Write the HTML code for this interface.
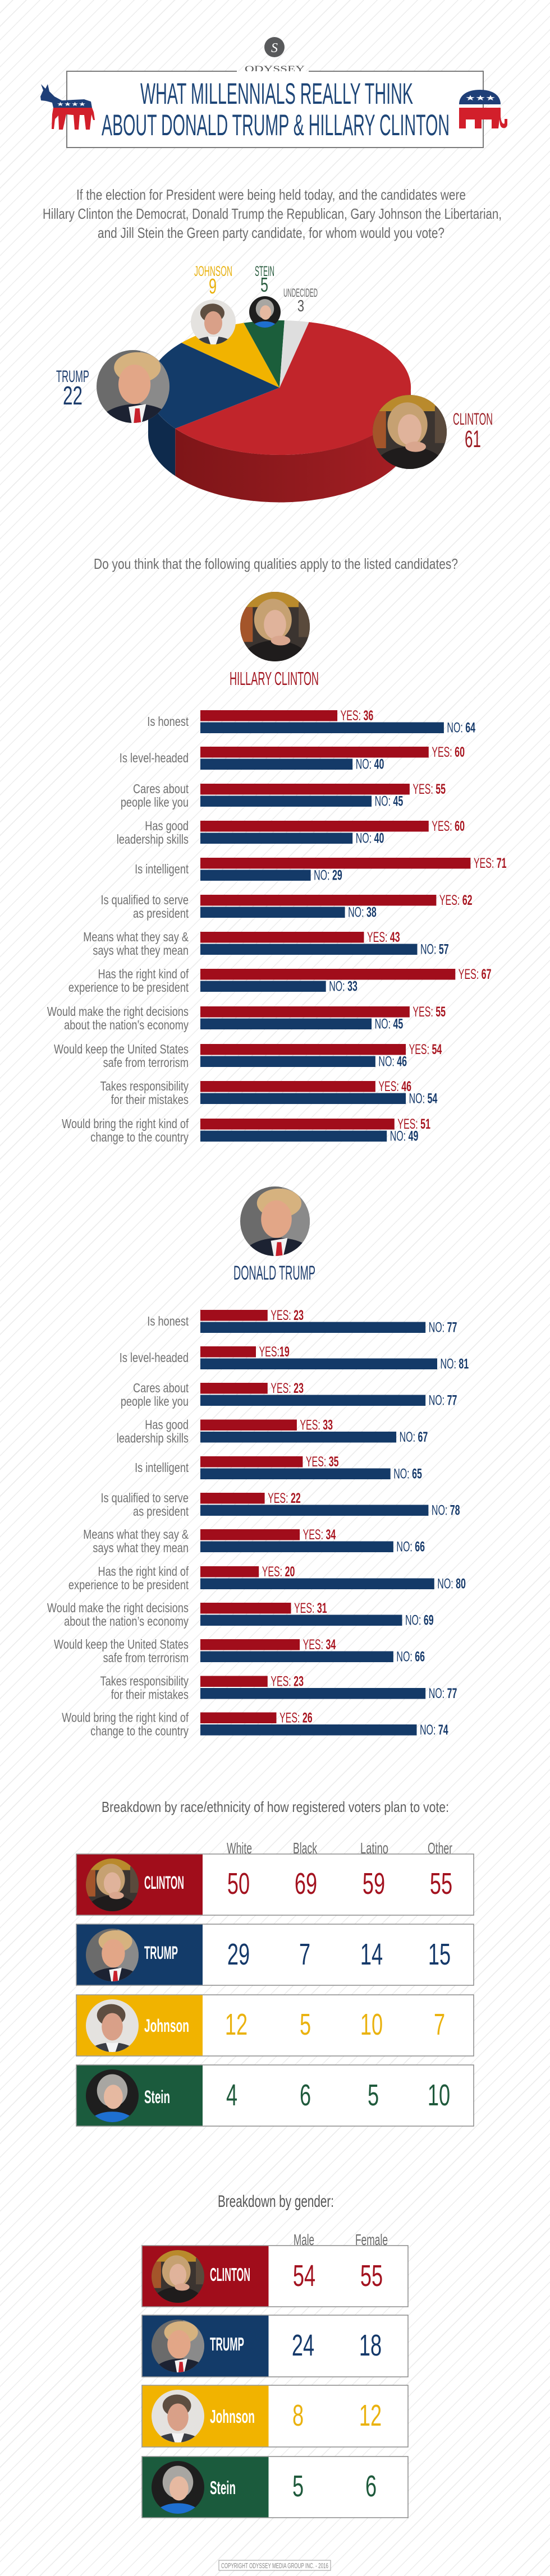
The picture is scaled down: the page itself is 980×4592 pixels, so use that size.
<!DOCTYPE html>
<html><head><meta charset="utf-8"><title>What Millennials Really Think</title>
<style>
html,body{margin:0;padding:0}
body{width:980px;height:4592px;overflow:hidden;background:#fff repeating-linear-gradient(135deg,#ffffff 0px,#ffffff 15.5px,#ededed 15.5px,#ededed 17px)}
svg{display:block}
text{font-family:"Liberation Sans",sans-serif}
.lb{font-size:23px;fill:#707070;text-anchor:end}
.vy{font-size:25px;fill:#a8141f}
.vn{font-size:25px;fill:#15396a}
.b{font-weight:bold}
</style></head>
<body>
<svg width="980" height="4592" viewBox="0 0 980 4592" xmlns="http://www.w3.org/2000/svg">
<defs>
<clipPath id="cc"><circle cx="50" cy="50" r="50"/></clipPath>
<linearGradient id="rs" x1="0" x2="1" y1="0" y2="0"><stop offset="0" stop-color="#7e1518"/><stop offset="0.6" stop-color="#941b1f"/><stop offset="1" stop-color="#a61e24"/></linearGradient>
<symbol id="ph" viewBox="0 0 100 100"><g clip-path="url(#cc)">
<rect width="100" height="100" fill="#3b3430"/><rect width="100" height="22" fill="#b98a2c"/><rect y="22" width="18" height="50" fill="#a4552a"/><rect x="84" y="15" width="16" height="50" fill="#5a4a3c"/>
<ellipse cx="47" cy="40" rx="27" ry="30" fill="#c6a172"/><ellipse cx="50" cy="47" rx="16" ry="21" fill="#e0b39b"/>
<ellipse cx="50" cy="102" rx="50" ry="32" fill="#1f1c1c"/><ellipse cx="58" cy="70" rx="14" ry="7" fill="#d9a68e"/></g></symbol>
<symbol id="pt" viewBox="0 0 100 100"><g clip-path="url(#cc)">
<rect width="100" height="100" fill="#6b6b6b"/><rect x="60" width="40" height="100" fill="#8a8a8a"/>
<ellipse cx="56" cy="24" rx="32" ry="21" fill="#d6b27f"/><ellipse cx="52" cy="47" rx="22" ry="27" fill="#e2a687"/>
<ellipse cx="55" cy="102" rx="52" ry="28" fill="#1c2232"/><polygon points="44,78 68,74 62,100 48,100" fill="#f2f2f2"/><polygon points="53,80 59,80 61,100 51,100" fill="#c8202b"/></g></symbol>
<symbol id="pj" viewBox="0 0 100 100"><g clip-path="url(#cc)">
<rect width="100" height="100" fill="#e4e2df"/><ellipse cx="48" cy="30" rx="27" ry="21" fill="#5e4e41"/><ellipse cx="50" cy="52" rx="20" ry="26" fill="#d9a088"/>
<ellipse cx="50" cy="108" rx="50" ry="26" fill="#3a3d44"/><polygon points="38,82 62,82 56,100 44,100" fill="#f4f4f4"/></g></symbol>
<symbol id="ps" viewBox="0 0 100 100"><g clip-path="url(#cc)">
<rect width="100" height="100" fill="#1e1e1e"/><ellipse cx="50" cy="40" rx="29" ry="31" fill="#a8a6a2"/><ellipse cx="52" cy="52" rx="18" ry="23" fill="#e6b9a1"/>
<ellipse cx="50" cy="106" rx="46" ry="26" fill="#1e6fd0"/></g></symbol>
</defs>

<!-- HEADER -->
<circle cx="489" cy="84" r="18" fill="#58595b"/>
<text x="489" y="93" text-anchor="middle" font-size="24" fill="#fff" style="font-family:'Liberation Serif',serif;font-style:italic">S</text>
<text x="436" y="128" textLength="107" lengthAdjust="spacingAndGlyphs" font-size="16" fill="#555" style="font-family:'Liberation Serif',serif">ODYSSEY</text>
<rect x="119" y="127" width="742" height="136" fill="#fff"/>
<path d="M422,127 H119 V263 H861 V127 H550" fill="none" stroke="#7a7a7a" stroke-width="2"/>
<text x="250" y="185" textLength="486" lengthAdjust="spacingAndGlyphs" font-size="53" fill="#1d4577">WHAT MILLENNIALS REALLY THINK</text>
<text x="181" y="241" textLength="620" lengthAdjust="spacingAndGlyphs" font-size="53" fill="#1d4577">ABOUT DONALD TRUMP &amp; HILLARY CLINTON</text>

<!-- donkey -->
<path d="M72,172 L77,161 L73,150 L81,158 L85,150 L88,163 L97,172 L110,179 L150,177 L162,181 L164,192 L95,192 L93,183 L82,180 L73,179 Z" fill="#1f3f77"/>
<text x="101" y="189" font-size="10" fill="#fff" textLength="52" lengthAdjust="spacingAndGlyphs">★★★★</text>
<path d="M95,192 H164 L167,200 L169,214 L166,214 L163,204 L160,231 L153,231 L150,205 L142,205 L140,231 L133,231 L131,205 L118,204 L112,231 L105,231 L104,206 L98,212 L96,230 L92,230 L93,204 Z" fill="#d21f2b"/>
<!-- elephant -->
<path d="M818,186 C818,168 835,160 855,160 C878,160 892,170 892,186 Z" fill="#1f3f77"/>
<text x="829" y="179" font-size="13" fill="#fff" textLength="54" lengthAdjust="spacingAndGlyphs">★★★</text>
<path d="M818,192 H892 V208 C893,218 896,222 899,220 L899,212 L904,212 L904,222 C903,230 893,231 891,222 L890,213 L888,229 L876,229 L876,213 L858,213 L858,229 L846,229 L846,213 L830,213 L830,229 L818,229 Z" fill="#d21f2b"/>

<!-- QUESTION 1 -->
<text x="136" y="356" textLength="694" lengthAdjust="spacingAndGlyphs" font-size="26" fill="#6b6b6b">If the election for President were being held today, and the candidates were</text>
<text x="76" y="390" textLength="818" lengthAdjust="spacingAndGlyphs" font-size="26" fill="#6b6b6b">Hillary Clinton the Democrat, Donald Trump the Republican, Gary Johnson the Libertarian,</text>
<text x="174" y="424" textLength="618" lengthAdjust="spacingAndGlyphs" font-size="26" fill="#6b6b6b">and Jill Stein the Green party candidate, for whom would you vote?</text>

<!-- PIE -->
<path d="M732,691 A234,120 0 0 1 312.2,763.9 L312.2,848.4 A234,120 0 0 0 732,775.5 Z" fill="url(#rs)"/>
<path d="M312.2,763.9 A234,120 0 0 1 264,691 L264,775.5 A234,120 0 0 0 312.2,848.4 Z" fill="#0e2a4c"/>
<path d="M498,691 L550.6,574.1 A234,120 0 1 1 312.2,763.9 Z" fill="#c1252b"/>
<path d="M498,691 L312.2,763.9 A234,120 0 0 1 323.5,611 Z" fill="#133b69"/>
<path d="M498,691 L323.5,611 A234,120 0 0 1 434.3,575.6 Z" fill="#f1b300"/>
<path d="M498,691 L434.3,575.6 A234,120 0 0 1 506.9,571.1 Z" fill="#1b5e3b"/>
<path d="M498,691 L506.9,571.1 A234,120 0 0 1 550.6,574.1 Z" fill="#dedede"/>
<use href="#pt" x="172" y="624" width="130" height="130"/>
<use href="#ph" x="664" y="704" width="132" height="132"/>
<use href="#pj" x="340" y="534" width="80" height="80"/>
<use href="#ps" x="444" y="528" width="56" height="56"/>
<text x="346" y="492" textLength="68" lengthAdjust="spacingAndGlyphs" font-size="25" fill="#e9b10c">JOHNSON</text>
<text x="372" y="523" textLength="14" lengthAdjust="spacingAndGlyphs" font-size="38" fill="#e9b10c">9</text>
<text x="454" y="492" textLength="35" lengthAdjust="spacingAndGlyphs" font-size="25" fill="#2b5d40">STEIN</text>
<text x="464" y="520" textLength="14" lengthAdjust="spacingAndGlyphs" font-size="36" fill="#2b5d40">5</text>
<text x="505" y="529" textLength="61" lengthAdjust="spacingAndGlyphs" font-size="21" fill="#666">UNDECIDED</text>
<text x="530" y="555" textLength="12" lengthAdjust="spacingAndGlyphs" font-size="29" fill="#555">3</text>
<text x="100" y="681" textLength="59" lengthAdjust="spacingAndGlyphs" font-size="30" fill="#1c3c6c">TRUMP</text>
<text x="112" y="721" textLength="35" lengthAdjust="spacingAndGlyphs" font-size="46" fill="#1c3c6c">22</text>
<text x="807" y="757" textLength="71" lengthAdjust="spacingAndGlyphs" font-size="30" fill="#9b1b22">CLINTON</text>
<text x="828" y="797" textLength="29" lengthAdjust="spacingAndGlyphs" font-size="43" fill="#9b1b22">61</text>

<!-- QUESTION 2 -->
<text x="167" y="1014" textLength="649" lengthAdjust="spacingAndGlyphs" font-size="26" fill="#6b6b6b">Do you think that the following qualities apply to the listed candidates?</text>

<!-- HILLARY -->
<use href="#ph" x="428" y="1055" width="124" height="124"/>
<text x="409" y="1221" textLength="159" lengthAdjust="spacingAndGlyphs" font-size="33" fill="#a31621">HILLARY CLINTON</text>

<g fill="#a10d1b">
<rect x="357" y="1266" width="244.1" height="19.5"/>
<rect x="357" y="1331" width="406.8" height="19.5"/>
<rect x="357" y="1397" width="372.9" height="19.5"/>
<rect x="357" y="1463" width="406.8" height="19.5"/>
<rect x="357" y="1529" width="481.4" height="19.5"/>
<rect x="357" y="1595" width="420.4" height="19.5"/>
<rect x="357" y="1661" width="291.5" height="19.5"/>
<rect x="357" y="1727" width="454.3" height="19.5"/>
<rect x="357" y="1794" width="372.9" height="19.5"/>
<rect x="357" y="1861" width="366.1" height="19.5"/>
<rect x="357" y="1927" width="311.9" height="19.5"/>
<rect x="357" y="1994" width="345.8" height="19.5"/>
</g>
<g fill="#143a68">
<rect x="357" y="1287.5" width="433.9" height="19.5"/>
<rect x="357" y="1352.5" width="271.2" height="19.5"/>
<rect x="357" y="1418.5" width="305.1" height="19.5"/>
<rect x="357" y="1484.5" width="271.2" height="19.5"/>
<rect x="357" y="1550.5" width="196.6" height="19.5"/>
<rect x="357" y="1616.5" width="257.6" height="19.5"/>
<rect x="357" y="1682.5" width="386.5" height="19.5"/>
<rect x="357" y="1748.5" width="223.7" height="19.5"/>
<rect x="357" y="1815.5" width="305.1" height="19.5"/>
<rect x="357" y="1882.5" width="311.9" height="19.5"/>
<rect x="357" y="1948.5" width="366.1" height="19.5"/>
<rect x="357" y="2015.5" width="332.2" height="19.5"/>
</g>
<g>
<text class="vy" transform="translate(606.6 1284) scale(.64 1)">YES: <tspan class="b">36</tspan></text>
<text class="vn" transform="translate(796.4 1305.5) scale(.64 1)">NO: <tspan class="b">64</tspan></text>
<text class="vy" transform="translate(769.3 1349) scale(.64 1)">YES: <tspan class="b">60</tspan></text>
<text class="vn" transform="translate(633.7 1370.5) scale(.64 1)">NO: <tspan class="b">40</tspan></text>
<text class="vy" transform="translate(735.4 1415) scale(.64 1)">YES: <tspan class="b">55</tspan></text>
<text class="vn" transform="translate(667.6 1436.5) scale(.64 1)">NO: <tspan class="b">45</tspan></text>
<text class="vy" transform="translate(769.3 1481) scale(.64 1)">YES: <tspan class="b">60</tspan></text>
<text class="vn" transform="translate(633.7 1502.5) scale(.64 1)">NO: <tspan class="b">40</tspan></text>
<text class="vy" transform="translate(843.9 1547) scale(.64 1)">YES: <tspan class="b">71</tspan></text>
<text class="vn" transform="translate(559.1 1568.5) scale(.64 1)">NO: <tspan class="b">29</tspan></text>
<text class="vy" transform="translate(782.9 1613) scale(.64 1)">YES: <tspan class="b">62</tspan></text>
<text class="vn" transform="translate(620.1 1634.5) scale(.64 1)">NO: <tspan class="b">38</tspan></text>
<text class="vy" transform="translate(654 1679) scale(.64 1)">YES: <tspan class="b">43</tspan></text>
<text class="vn" transform="translate(749 1700.5) scale(.64 1)">NO: <tspan class="b">57</tspan></text>
<text class="vy" transform="translate(816.8 1745) scale(.64 1)">YES: <tspan class="b">67</tspan></text>
<text class="vn" transform="translate(586.2 1766.5) scale(.64 1)">NO: <tspan class="b">33</tspan></text>
<text class="vy" transform="translate(735.4 1812) scale(.64 1)">YES: <tspan class="b">55</tspan></text>
<text class="vn" transform="translate(667.6 1833.5) scale(.64 1)">NO: <tspan class="b">45</tspan></text>
<text class="vy" transform="translate(728.6 1879) scale(.64 1)">YES: <tspan class="b">54</tspan></text>
<text class="vn" transform="translate(674.4 1900.5) scale(.64 1)">NO: <tspan class="b">46</tspan></text>
<text class="vy" transform="translate(674.4 1945) scale(.64 1)">YES: <tspan class="b">46</tspan></text>
<text class="vn" transform="translate(728.6 1966.5) scale(.64 1)">NO: <tspan class="b">54</tspan></text>
<text class="vy" transform="translate(708.3 2012) scale(.64 1)">YES: <tspan class="b">51</tspan></text>
<text class="vn" transform="translate(694.7 2033.5) scale(.64 1)">NO: <tspan class="b">49</tspan></text>
</g>
<g>
<text class="lb" transform="translate(336 1294) scale(.79 1)">Is honest</text>
<text class="lb" transform="translate(336 1359) scale(.79 1)">Is level-headed</text>
<text class="lb" transform="translate(336 1414) scale(.79 1)">Cares about</text>
<text class="lb" transform="translate(336 1438) scale(.79 1)">people like you</text>
<text class="lb" transform="translate(336 1480) scale(.79 1)">Has good</text>
<text class="lb" transform="translate(336 1504) scale(.79 1)">leadership skills</text>
<text class="lb" transform="translate(336 1557) scale(.79 1)">Is intelligent</text>
<text class="lb" transform="translate(336 1612) scale(.79 1)">Is qualified to serve</text>
<text class="lb" transform="translate(336 1636) scale(.79 1)">as president</text>
<text class="lb" transform="translate(336 1678) scale(.79 1)">Means what they say &amp;</text>
<text class="lb" transform="translate(336 1702) scale(.79 1)">says what they mean</text>
<text class="lb" transform="translate(336 1744) scale(.79 1)">Has the right kind of</text>
<text class="lb" transform="translate(336 1768) scale(.79 1)">experience to be president</text>
<text class="lb" transform="translate(336 1811) scale(.79 1)">Would make the right decisions</text>
<text class="lb" transform="translate(336 1835) scale(.79 1)">about the nation’s economy</text>
<text class="lb" transform="translate(336 1878) scale(.79 1)">Would keep the United States</text>
<text class="lb" transform="translate(336 1902) scale(.79 1)">safe from terrorism</text>
<text class="lb" transform="translate(336 1944) scale(.79 1)">Takes responsibility</text>
<text class="lb" transform="translate(336 1968) scale(.79 1)">for their mistakes</text>
<text class="lb" transform="translate(336 2011) scale(.79 1)">Would bring the right kind of</text>
<text class="lb" transform="translate(336 2035) scale(.79 1)">change to the country</text>
</g>

<!-- TRUMP -->
<use href="#pt" x="428" y="2115" width="124" height="124"/>
<text x="416" y="2281" textLength="146" lengthAdjust="spacingAndGlyphs" font-size="35" fill="#1c3c6c">DONALD TRUMP</text>

<g fill="#a10d1b">
<rect x="357" y="2335" width="119.8" height="19.5"/>
<rect x="357" y="2400" width="99" height="19.5"/>
<rect x="357" y="2465" width="119.8" height="19.5"/>
<rect x="357" y="2530.5" width="171.9" height="19.5"/>
<rect x="357" y="2596" width="182.4" height="19.5"/>
<rect x="357" y="2661" width="114.6" height="19.5"/>
<rect x="357" y="2726" width="177.1" height="19.5"/>
<rect x="357" y="2792" width="104.2" height="19.5"/>
<rect x="357" y="2857" width="161.5" height="19.5"/>
<rect x="357" y="2922" width="177.1" height="19.5"/>
<rect x="357" y="2987.5" width="119.8" height="19.5"/>
<rect x="357" y="3052.5" width="135.5" height="19.5"/>
</g>
<g fill="#143a68">
<rect x="357" y="2356.5" width="401.2" height="19.5"/>
<rect x="357" y="2421.5" width="422" height="19.5"/>
<rect x="357" y="2486.5" width="401.2" height="19.5"/>
<rect x="357" y="2552" width="349.1" height="19.5"/>
<rect x="357" y="2617.5" width="338.7" height="19.5"/>
<rect x="357" y="2682.5" width="406.4" height="19.5"/>
<rect x="357" y="2747.5" width="343.9" height="19.5"/>
<rect x="357" y="2813.5" width="416.8" height="19.5"/>
<rect x="357" y="2878.5" width="359.5" height="19.5"/>
<rect x="357" y="2943.5" width="343.9" height="19.5"/>
<rect x="357" y="3009" width="401.2" height="19.5"/>
<rect x="357" y="3074" width="385.5" height="19.5"/>
</g>
<g>
<text class="vy" transform="translate(482.3 2353) scale(.64 1)">YES: <tspan class="b">23</tspan></text>
<text class="vn" transform="translate(763.7 2374.5) scale(.64 1)">NO: <tspan class="b">77</tspan></text>
<text class="vy" transform="translate(461.5 2418) scale(.64 1)">YES:<tspan class="b">19</tspan></text>
<text class="vn" transform="translate(784.5 2439.5) scale(.64 1)">NO: <tspan class="b">81</tspan></text>
<text class="vy" transform="translate(482.3 2483) scale(.64 1)">YES: <tspan class="b">23</tspan></text>
<text class="vn" transform="translate(763.7 2504.5) scale(.64 1)">NO: <tspan class="b">77</tspan></text>
<text class="vy" transform="translate(534.4 2548.5) scale(.64 1)">YES: <tspan class="b">33</tspan></text>
<text class="vn" transform="translate(711.6 2570) scale(.64 1)">NO: <tspan class="b">67</tspan></text>
<text class="vy" transform="translate(544.9 2614) scale(.64 1)">YES: <tspan class="b">35</tspan></text>
<text class="vn" transform="translate(701.2 2635.5) scale(.64 1)">NO: <tspan class="b">65</tspan></text>
<text class="vy" transform="translate(477.1 2679) scale(.64 1)">YES: <tspan class="b">22</tspan></text>
<text class="vn" transform="translate(768.9 2700.5) scale(.64 1)">NO: <tspan class="b">78</tspan></text>
<text class="vy" transform="translate(539.6 2744) scale(.64 1)">YES: <tspan class="b">34</tspan></text>
<text class="vn" transform="translate(706.4 2765.5) scale(.64 1)">NO: <tspan class="b">66</tspan></text>
<text class="vy" transform="translate(466.7 2810) scale(.64 1)">YES: <tspan class="b">20</tspan></text>
<text class="vn" transform="translate(779.3 2831.5) scale(.64 1)">NO: <tspan class="b">80</tspan></text>
<text class="vy" transform="translate(524 2875) scale(.64 1)">YES: <tspan class="b">31</tspan></text>
<text class="vn" transform="translate(722 2896.5) scale(.64 1)">NO: <tspan class="b">69</tspan></text>
<text class="vy" transform="translate(539.6 2940) scale(.64 1)">YES: <tspan class="b">34</tspan></text>
<text class="vn" transform="translate(706.4 2961.5) scale(.64 1)">NO: <tspan class="b">66</tspan></text>
<text class="vy" transform="translate(482.3 3005.5) scale(.64 1)">YES: <tspan class="b">23</tspan></text>
<text class="vn" transform="translate(763.7 3027) scale(.64 1)">NO: <tspan class="b">77</tspan></text>
<text class="vy" transform="translate(498 3070.5) scale(.64 1)">YES: <tspan class="b">26</tspan></text>
<text class="vn" transform="translate(748 3092) scale(.64 1)">NO: <tspan class="b">74</tspan></text>
</g>
<g>
<text class="lb" transform="translate(336 2363) scale(.79 1)">Is honest</text>
<text class="lb" transform="translate(336 2428) scale(.79 1)">Is level-headed</text>
<text class="lb" transform="translate(336 2482) scale(.79 1)">Cares about</text>
<text class="lb" transform="translate(336 2506) scale(.79 1)">people like you</text>
<text class="lb" transform="translate(336 2547.5) scale(.79 1)">Has good</text>
<text class="lb" transform="translate(336 2571.5) scale(.79 1)">leadership skills</text>
<text class="lb" transform="translate(336 2624) scale(.79 1)">Is intelligent</text>
<text class="lb" transform="translate(336 2678) scale(.79 1)">Is qualified to serve</text>
<text class="lb" transform="translate(336 2702) scale(.79 1)">as president</text>
<text class="lb" transform="translate(336 2743) scale(.79 1)">Means what they say &amp;</text>
<text class="lb" transform="translate(336 2767) scale(.79 1)">says what they mean</text>
<text class="lb" transform="translate(336 2809) scale(.79 1)">Has the right kind of</text>
<text class="lb" transform="translate(336 2833) scale(.79 1)">experience to be president</text>
<text class="lb" transform="translate(336 2874) scale(.79 1)">Would make the right decisions</text>
<text class="lb" transform="translate(336 2898) scale(.79 1)">about the nation’s economy</text>
<text class="lb" transform="translate(336 2939) scale(.79 1)">Would keep the United States</text>
<text class="lb" transform="translate(336 2963) scale(.79 1)">safe from terrorism</text>
<text class="lb" transform="translate(336 3004.5) scale(.79 1)">Takes responsibility</text>
<text class="lb" transform="translate(336 3028.5) scale(.79 1)">for their mistakes</text>
<text class="lb" transform="translate(336 3069.5) scale(.79 1)">Would bring the right kind of</text>
<text class="lb" transform="translate(336 3093.5) scale(.79 1)">change to the country</text>
</g>

<!-- RACE TABLE -->
<text x="181" y="3230" textLength="619" lengthAdjust="spacingAndGlyphs" font-size="26" fill="#5e5e5e">Breakdown by race/ethnicity of how registered voters plan to vote:</text>
<g font-size="28" fill="#6a6a6a">
<text x="404" y="3304" textLength="45" lengthAdjust="spacingAndGlyphs">White</text>
<text x="522" y="3304" textLength="43" lengthAdjust="spacingAndGlyphs">Black</text>
<text x="642" y="3304" textLength="50" lengthAdjust="spacingAndGlyphs">Latino</text>
<text x="762" y="3304" textLength="44" lengthAdjust="spacingAndGlyphs">Other</text>
</g>
<g stroke="#8a8a8a" stroke-width="1.5">
<rect x="136" y="3305" width="708" height="109" fill="#fff"/>
<rect x="136" y="3430" width="708" height="109" fill="#fff"/>
<rect x="136" y="3556" width="708" height="109" fill="#fff"/>
<rect x="136" y="3681" width="708" height="109" fill="#fff"/>
</g>
<rect x="136.75" y="3305.75" width="224.25" height="107.5" fill="#a10d1b"/>
<rect x="136.75" y="3430.75" width="224.25" height="107.5" fill="#133b69"/>
<rect x="136.75" y="3556.75" width="224.25" height="107.5" fill="#f1b300"/>
<rect x="136.75" y="3681.75" width="224.25" height="107.5" fill="#1b5b3d"/>
<use href="#ph" x="153" y="3313" width="94" height="94"/>
<use href="#pt" x="153" y="3438" width="94" height="94"/>
<use href="#pj" x="153" y="3564" width="94" height="94"/>
<use href="#ps" x="153" y="3689" width="94" height="94"/>
<g fill="#fff" font-size="32" font-weight="bold">
<text x="257" y="3367" textLength="71" lengthAdjust="spacingAndGlyphs">CLINTON</text>
<text x="257" y="3492" textLength="60" lengthAdjust="spacingAndGlyphs">TRUMP</text>
<text x="257" y="3622" textLength="80" lengthAdjust="spacingAndGlyphs">Johnson</text>
<text x="257" y="3749" textLength="46" lengthAdjust="spacingAndGlyphs">Stein</text>
</g>
<g font-size="54" text-anchor="middle">
<g fill="#a3121f">
<text transform="translate(425 3376) scale(.67 1)">50</text>
<text transform="translate(545 3376) scale(.67 1)">69</text>
<text transform="translate(666 3376) scale(.67 1)">59</text>
<text transform="translate(786 3376) scale(.67 1)">55</text>
</g>
<g fill="#15396a">
<text transform="translate(425 3502) scale(.67 1)">29</text>
<text transform="translate(543 3502) scale(.67 1)">7</text>
<text transform="translate(662 3502) scale(.67 1)">14</text>
<text transform="translate(783 3502) scale(.67 1)">15</text>
</g>
<g fill="#eab20f">
<text transform="translate(421 3627) scale(.67 1)">12</text>
<text transform="translate(544 3627) scale(.67 1)">5</text>
<text transform="translate(662 3627) scale(.67 1)">10</text>
<text transform="translate(783 3627) scale(.67 1)">7</text>
</g>
<g fill="#1f5a3c">
<text transform="translate(413 3753) scale(.67 1)">4</text>
<text transform="translate(544 3753) scale(.67 1)">6</text>
<text transform="translate(665 3753) scale(.67 1)">5</text>
<text transform="translate(782 3753) scale(.67 1)">10</text>
</g>
</g>

<!-- GENDER TABLE -->
<text x="388" y="3934" textLength="207" lengthAdjust="spacingAndGlyphs" font-size="30" fill="#555">Breakdown by gender:</text>
<g font-size="28" fill="#6a6a6a">
<text x="523" y="4002" textLength="37" lengthAdjust="spacingAndGlyphs">Male</text>
<text x="633" y="4002" textLength="58" lengthAdjust="spacingAndGlyphs">Female</text>
</g>
<g stroke="#8a8a8a" stroke-width="1.5">
<rect x="253" y="4003" width="474" height="109" fill="#fff"/>
<rect x="253" y="4127" width="474" height="110" fill="#fff"/>
<rect x="253" y="4252" width="474" height="110" fill="#fff"/>
<rect x="253" y="4379" width="474" height="109" fill="#fff"/>
</g>
<rect x="253.75" y="4003.75" width="224.75" height="107.5" fill="#a10d1b"/>
<rect x="253.75" y="4127.75" width="224.75" height="108.5" fill="#133b69"/>
<rect x="253.75" y="4252.75" width="224.75" height="108.5" fill="#f1b300"/>
<rect x="253.75" y="4379.75" width="224.75" height="107.5" fill="#1b5b3d"/>
<use href="#ph" x="270" y="4011" width="94" height="94"/>
<use href="#pt" x="270" y="4135" width="94" height="94"/>
<use href="#pj" x="270" y="4260" width="94" height="94"/>
<use href="#ps" x="270" y="4387" width="94" height="94"/>
<g fill="#fff" font-size="33" font-weight="bold">
<text x="374" y="4066" textLength="72" lengthAdjust="spacingAndGlyphs">CLINTON</text>
<text x="374" y="4190" textLength="61" lengthAdjust="spacingAndGlyphs">TRUMP</text>
<text x="374" y="4319" textLength="80" lengthAdjust="spacingAndGlyphs">Johnson</text>
<text x="374" y="4446" textLength="46" lengthAdjust="spacingAndGlyphs">Stein</text>
</g>
<g font-size="54" text-anchor="middle">
<text fill="#a3121f" transform="translate(542 4075) scale(.67 1)">54</text>
<text fill="#a3121f" transform="translate(662 4075) scale(.67 1)">55</text>
<text fill="#15396a" transform="translate(540 4199) scale(.67 1)">24</text>
<text fill="#15396a" transform="translate(660 4199) scale(.67 1)">18</text>
<text fill="#eab20f" transform="translate(531 4324) scale(.67 1)">8</text>
<text fill="#eab20f" transform="translate(660 4324) scale(.67 1)">12</text>
<text fill="#1f5a3c" transform="translate(531 4450) scale(.67 1)">5</text>
<text fill="#1f5a3c" transform="translate(661 4450) scale(.67 1)">6</text>
</g>

<!-- COPYRIGHT -->
<rect x="390" y="4564" width="199" height="18" fill="#fff" stroke="#999" stroke-width="1"/>
<text x="394" y="4578" textLength="191" lengthAdjust="spacingAndGlyphs" font-size="13" fill="#888">COPYRIGHT ODYSSEY MEDIA GROUP INC. - 2016</text>
</svg>
</body></html>
